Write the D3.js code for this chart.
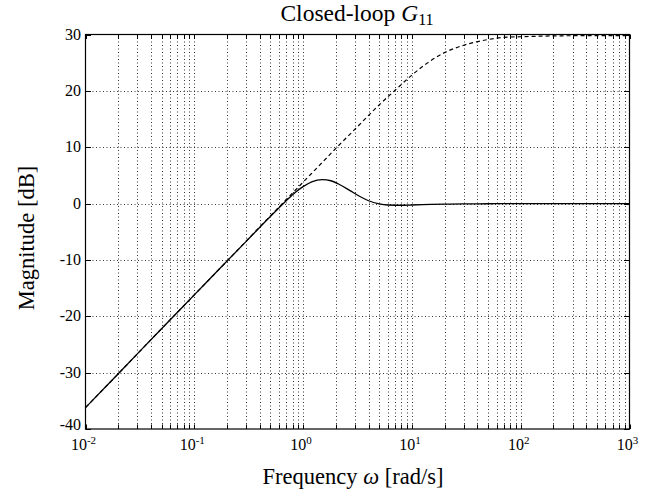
<!DOCTYPE html>
<html><head><meta charset="utf-8">
<script src="https://cdn.jsdelivr.net/npm/d3@7"></script>
<style>body{margin:0;background:#fff}svg{display:block}text{font-family:"Liberation Serif","Times New Roman",serif;fill:#000}</style>
</head><body><svg id="c" width="653" height="497"></svg>
<script>
// Frequencies (rad/s) at which magnitudes were read
const freqs = [0.01,0.02,0.05,0.1,0.2,0.3,0.5,0.7,0.85,1.0,1.2,1.5,1.8,2.2,2.7,3.3,4.0,5.0,6.0,8.0,10,15,20,30,50,70,100,200,500,1000];
// Closed-loop G11 (solid)
const solidMag = [-36.2,-30.2,-22.2,-16.2,-10.2,-6.7,-2.3,0.5,2.0,3.0,3.85,4.25,4.05,3.3,2.3,1.3,0.5,-0.05,-0.25,-0.3,-0.25,-0.15,-0.1,-0.06,-0.03,-0.02,0,0,0,0];
// Dashed curve
const dashFreqs = [0.01,0.02,0.05,0.1,0.2,0.5,1,1.5,2,3,5,7,10,15,20,30,50,70,100,200,500,1000];
const dashMag = [-36.2,-30.2,-22.2,-16.2,-10.2,-2.2,3.8,7.3,9.8,13.2,17.5,20.1,22.8,25.4,26.8,28.1,29.1,29.5,29.6,29.75,29.8,29.8];
const yTicks = [-40,-30,-20,-10,0,10,20,30];
const xDecades = [-2,-1,0,1,2,3];

const svg = d3.select("#c");
const L=85.5,R=629.5,T=34.5,B=429;
const x = d3.scaleLog().domain([0.01,1000]).range([L,R]);
const y = d3.scaleLinear().domain([-40,30]).range([B,T]);

// minor + major x positions
const xAll = [];
xDecades.forEach(d=>{ if(d<3){ for(let m=1;m<10;m++) xAll.push(m*Math.pow(10,d)); } else xAll.push(1000); });

const g = svg.append("g");
// grid
g.selectAll(".gx").data(xAll.filter(v=>v>0.01 && v<1000)).join("line")
 .attr("x1",d=>Math.round(x(d))+0.5).attr("x2",d=>Math.round(x(d))+0.5).attr("y1",T).attr("y2",B)
 .attr("stroke","#000").attr("stroke-width",0.8).attr("stroke-dasharray","1,2.5");
g.selectAll(".gy").data(yTicks.filter(v=>v>-40&&v<30)).join("line")
 .attr("y1",d=>Math.round(y(d))+0.5).attr("y2",d=>Math.round(y(d))+0.5).attr("x1",L).attr("x2",R)
 .attr("stroke","#000").attr("stroke-width",0.8).attr("stroke-dasharray","1,2.5");

// ticks (inside, all four sides)
const tl=4.5;
xAll.forEach(v=>{
  const px=Math.round(x(v))+0.5;
  g.append("line").attr("x1",px).attr("x2",px).attr("y1",B).attr("y2",B-tl).attr("stroke","#000").attr("stroke-width",1);
  g.append("line").attr("x1",px).attr("x2",px).attr("y1",T).attr("y2",T+tl).attr("stroke","#000").attr("stroke-width",1);
});
yTicks.forEach(v=>{
  const py=Math.round(y(v))+0.5;
  g.append("line").attr("y1",py).attr("y2",py).attr("x1",L).attr("x2",L+5.5).attr("stroke","#000").attr("stroke-width",1);
  g.append("line").attr("y1",py).attr("y2",py).attr("x1",R).attr("x2",R-5.5).attr("stroke","#000").attr("stroke-width",1);
});

// curves
const line = d3.line().curve(d3.curveMonotoneX);
g.append("path").attr("d",line(dashFreqs.map((f,i)=>[x(f),y(dashMag[i])])))
 .attr("fill","none").attr("stroke","#000").attr("stroke-width",1.2).attr("stroke-dasharray","4,3");
g.append("path").attr("d",line(freqs.map((f,i)=>[x(f),y(solidMag[i])])))
 .attr("fill","none").attr("stroke","#000").attr("stroke-width",1.3);

// frame
g.append("rect").attr("x",L).attr("y",T).attr("width",R-L).attr("height",B-T)
 .attr("fill","none").attr("stroke","#000").attr("stroke-width",1.2);

// y tick labels
g.selectAll(".yl").data(yTicks).join("text")
 .attr("x",81).attr("y",d=>y(d)+(d===-40?1:5)).attr("text-anchor","end").style("font-size","16px")
 .text(d=>d);

// x tick labels
xDecades.forEach(d=>{
  const t=g.append("text").attr("x",x(Math.pow(10,d))-2).attr("y",449.5).attr("text-anchor","middle").style("font-size","16px");
  t.append("tspan").text("10");
  t.append("tspan").attr("dy",-6).style("font-size","11px").text(d<0?"-"+Math.abs(d):String(d));
});

// title
const tt=svg.append("text").attr("x",357).attr("y",21).attr("text-anchor","middle").style("font-size","23.5px");
tt.append("tspan").text("Closed-loop ");
tt.append("tspan").style("font-style","italic").text("G");
tt.append("tspan").attr("dy",4).style("font-size","16px").text("11");

// axis labels
const xl=svg.append("text").attr("x",353).attr("y",484).attr("text-anchor","middle").style("font-size","22.5px");
xl.append("tspan").text("Frequency ");
xl.append("tspan").style("font-style","italic").text("ω");
xl.append("tspan").text(" [rad/s]");
svg.append("text").attr("transform","translate(34,238) rotate(-90)").attr("text-anchor","middle").style("font-size","22.5px").text("Magnitude [dB]");
</script></body></html>
